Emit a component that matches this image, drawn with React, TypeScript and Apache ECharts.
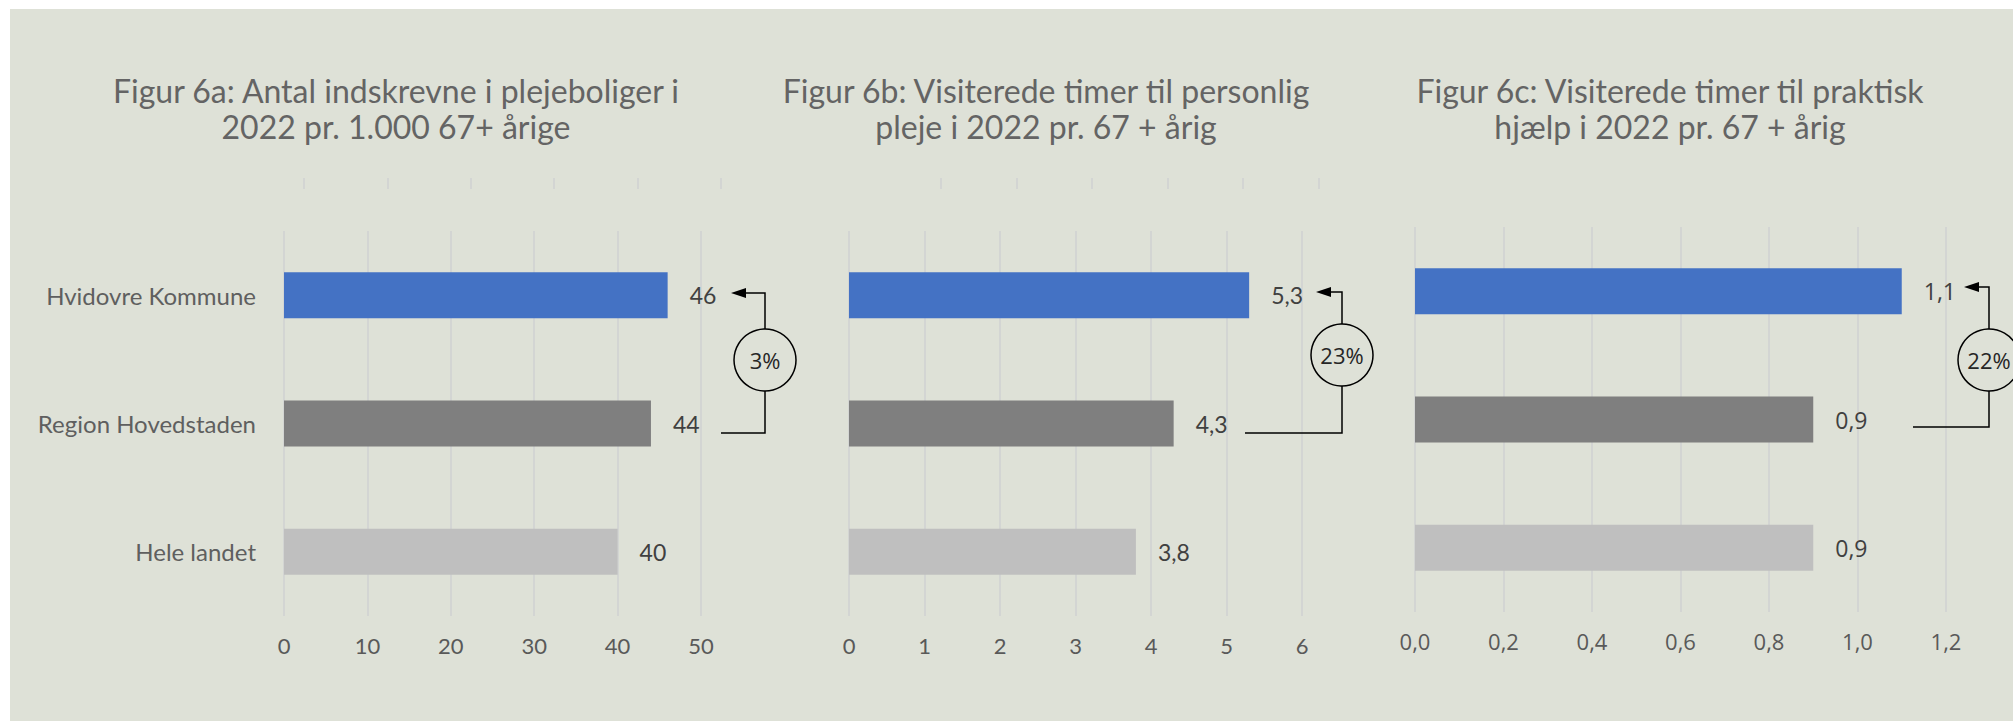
import React, { useEffect, useRef } from "react";
import * as echarts from "echarts";

const categories = ["Hvidovre Kommune", "Region Hovedstaden", "Hele landet"];
const valuesA = [46, 44, 40];
const valuesB = [5.3, 4.3, 3.8];
const valuesC = [1.1, 0.9, 0.9];
const changeLabels = ["3%", "23%", "22%"];
const titleA = "Figur 6a: Antal indskrevne i plejeboliger i\n2022 pr. 1.000 67+ årige";
const titleB = "Figur 6b: Visiterede timer til personlig\npleje i 2022 pr. 67 + årig";
const titleC = "Figur 6c: Visiterede timer til praktisk\nhjælp i 2022 pr. 67 + årig";
const axisA = { min: 0, max: 50, interval: 10 };
const axisB = { min: 0, max: 6, interval: 1 };
const axisC = { min: 0, max: 1.2, interval: 0.2 };
const barColors = ["#4472C4", "#7F7F7F", "#BFBFBF"];

const BG = "#DEE1D7";
const GRID = "#D3D5D3";
const FONT_A = "Lato";
const FONT_C = "Open Sans";

const comma = (v: number, d?: number) =>
  (d !== undefined ? v.toFixed(d) : String(v)).replace(".", ",");

function annotation(
  xLeft: number,
  yBottom: number,
  xV: number,
  yTop: number,
  xTip: number,
  cx: number,
  cy: number,
  text: string
) {
  return [
    {
      type: "polyline",
      z: 10,
      shape: {
        points: [
          [xLeft, yBottom],
          [xV, yBottom],
          [xV, yTop],
          [xTip + 12, yTop],
        ],
      },
      style: { stroke: "#000", lineWidth: 1.5, fill: null },
    },
    {
      type: "polygon",
      z: 10,
      shape: {
        points: [
          [xTip, yTop],
          [xTip + 15, yTop - 5],
          [xTip + 15, yTop + 5],
        ],
      },
      style: { fill: "#000" },
    },
    {
      type: "circle",
      z: 11,
      shape: { cx, cy, r: 31 },
      style: { fill: BG, stroke: "#000", lineWidth: 1.5 },
    },
    {
      type: "text",
      z: 12,
      x: cx,
      y: cy,
      style: {
        text,
        align: "center",
        verticalAlign: "middle",
        fontSize: 22,
        fontFamily: FONT_C,
        fill: "#262626",
      },
    },
  ];
}

function titleText(x: number, text: string) {
  return {
    type: "text",
    x,
    y: 63,
    style: {
      text,
      align: "center",
      verticalAlign: "top",
      fontSize: 32,
      fontWeight: "normal",
      lineHeight: 36,
      fontFamily: FONT_A,
      fill: "#646464",
    },
  };
}

function barSeries(idx: number, values: number[], fmt: (v: number) => string, font: string) {
  return {
    type: "bar",
    xAxisIndex: idx,
    yAxisIndex: idx,
    barWidth: 46,
    data: values.map((v, i) => ({ value: v, itemStyle: { color: barColors[i] } })),
    label: {
      show: true,
      position: "right",
      distance: 22,
      formatter: (p: any) => fmt(p.value),
      fontSize: 23,
      fontFamily: font,
      color: "#404040",
    },
  };
}

function valueAxis(idx: number, ax: any, fmt: (v: number) => string, font: string) {
  return {
    type: "value",
    gridIndex: idx,
    min: ax.min,
    max: ax.max,
    interval: ax.interval,
    axisLine: { show: false },
    axisTick: { show: false },
    splitLine: { show: true, lineStyle: { color: GRID, width: 2 } },
    axisLabel: {
      margin: 18,
      fontSize: 22,
      fontFamily: font,
      color: "#595959",
      formatter: (v: number) => fmt(v),
    },
  };
}

function catAxis(idx: number, showLabels: boolean) {
  return {
    type: "category",
    gridIndex: idx,
    inverse: true,
    data: categories,
    axisLine: { show: false },
    axisTick: { show: false },
    splitLine: { show: false },
    axisLabel: {
      show: showLabels,
      margin: 28,
      fontSize: 24,
      fontFamily: FONT_A,
      color: "#5f5f5f",
    },
  };
}

function tickAxis(idx: number, ax: any) {
  return {
    type: "value",
    gridIndex: idx,
    position: "top",
    min: ax.min,
    max: ax.max,
    interval: ax.interval,
    axisLine: { show: false },
    axisLabel: { show: false },
    splitLine: { show: false },
    axisTick: { show: true, length: 11, lineStyle: { color: GRID, width: 2 } },
  };
}

export default function App() {
  const ref = useRef<HTMLDivElement>(null);
  useEffect(() => {
    const chart = echarts.init(ref.current!, null, { renderer: "svg" });
    const option: any = {
      animation: false,
      backgroundColor: BG,
      grid: [
        { left: 274, top: 222, width: 417, height: 385 },
        { left: 839, top: 222, width: 453, height: 385 },
        { left: 1405, top: 218, width: 531, height: 385 },
        { left: 294, top: 179, width: 417, height: 1 },
        { left: 931, top: 179, width: 377.5, height: 1 },
      ],
      xAxis: [
        valueAxis(0, axisA, (v) => String(v), FONT_A),
        valueAxis(1, axisB, (v) => String(v), FONT_A),
        valueAxis(2, axisC, (v) => comma(v, 1), FONT_C),
        tickAxis(3, axisA),
        tickAxis(4, { min: 0, max: 5, interval: 1 }),
      ],
      yAxis: [
        catAxis(0, true),
        catAxis(1, false),
        catAxis(2, false),
        { type: "value", gridIndex: 3, show: false },
        { type: "value", gridIndex: 4, show: false },
      ],
      series: [
        barSeries(0, valuesA, (v) => String(v), FONT_A),
        barSeries(1, valuesB, (v) => comma(v), FONT_A),
        barSeries(2, valuesC, (v) => comma(v), FONT_C),
      ],
      graphic: [
        titleText(386, titleA),
        titleText(1036, titleB),
        titleText(1660, titleC),
        ...annotation(711, 424, 755, 284, 721, 755, 351, changeLabels[0]),
        ...annotation(1235, 424, 1332, 283, 1306, 1332, 346, changeLabels[1]),
        ...annotation(1903, 418, 1979, 278, 1954, 1979, 351, changeLabels[2]),
      ],
    };
    chart.setOption(option);
    return () => chart.dispose();
  }, []);
  return (
    <div
      ref={ref}
      style={{ position: "absolute", left: 10, top: 9, width: 2003, height: 712 }}
    />
  );
}
